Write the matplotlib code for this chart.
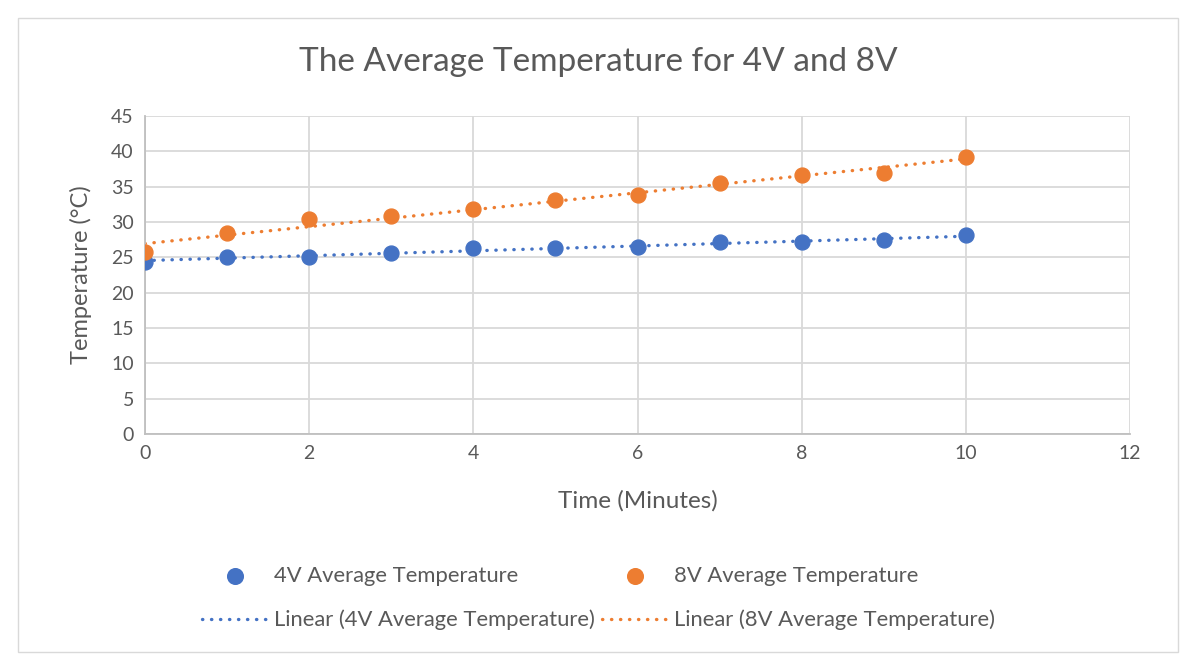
import matplotlib.pyplot as plt
import numpy as np

plt.rcParams['font.family'] = ['Lato', 'DejaVu Sans']

time_min = [0, 1, 2, 3, 4, 5, 6, 7, 8, 9, 10]
temp_4v = [24.4, 25.0, 25.0, 25.6, 26.3, 26.3, 26.5, 27.1, 27.2, 27.4, 28.1]
temp_8v = [25.7, 28.4, 30.4, 30.8, 31.8, 33.1, 33.8, 35.5, 36.6, 37.0, 39.2]

blue = '#4472C4'
orange = '#ED7D31'
text_gray = '#595959'
grid_gray = '#D9D9D9'
dotted = (0, (0.1, 2.6))

fig = plt.figure(figsize=(11.97, 6.67), dpi=100)
ax = fig.add_axes([145 / 1197, 1 - 434 / 667, (1130 - 145) / 1197, (434 - 116) / 667])

x = np.array(time_min)
h1 = ax.scatter(x, temp_4v, s=115, color=blue, zorder=3, label='4V Average Temperature')
h3 = ax.scatter(x, temp_8v, s=115, color=orange, zorder=3, label='8V Average Temperature')

fit4 = np.polyfit(x, temp_4v, 1)
fit8 = np.polyfit(x, temp_8v, 1)
h2, = ax.plot(x, np.polyval(fit4, x), color=blue, lw=2.4, linestyle=dotted, dash_capstyle='round',
              zorder=2, label='Linear (4V Average Temperature)')
h4, = ax.plot(x, np.polyval(fit8, x), color=orange, lw=2.4, linestyle=dotted, dash_capstyle='round',
              zorder=2, label='Linear (8V Average Temperature)')

ax.set_xlim(0, 12)
ax.set_ylim(0, 45)
ax.set_xticks(range(0, 13, 2))
ax.set_yticks(range(0, 46, 5))
ax.grid(True, color=grid_gray, lw=1.3, zorder=0)
ax.set_axisbelow(True)
for side in ['top', 'right']:
    ax.spines[side].set_visible(False)
for side in ['left', 'bottom']:
    ax.spines[side].set_color('#BFBFBF')
    ax.spines[side].set_linewidth(1.3)
ax.tick_params(length=0, labelsize=14, labelcolor=text_gray, pad=8)

ax.set_xlabel('Time (Minutes)', fontsize=17.5, color=text_gray, labelpad=20)
ax.set_ylabel('Temperature (°C)', fontsize=17, color=text_gray, labelpad=14)
fig.text(0.5, 1 - 62 / 667, 'The Average Temperature for 4V and 8V', ha='center', va='center',
         fontsize=24, color=text_gray)

fig.legend(handles=[h1, h2, h3, h4], loc='center', bbox_to_anchor=(0.5, 1 - 598 / 667), ncol=2,
           frameon=False, fontsize=15.8, labelcolor=text_gray, handlelength=3.0,
           columnspacing=0.3, handletextpad=0.3, labelspacing=1.1, markerscale=1.05)

border = plt.Rectangle((18 / 1197, 1 - 652 / 667), (1178 - 18) / 1197, (652 - 18) / 667,
                       transform=fig.transFigure, fill=False, edgecolor='#D9D9D9', lw=1)
fig.patches.append(border)

fig.savefig('out.png', dpi=100)
